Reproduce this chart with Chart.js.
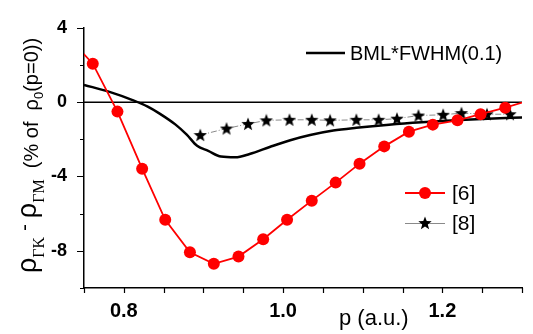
<!DOCTYPE html>
<html>
<head>
<meta charset="utf-8">
<script src="https://cdn.jsdelivr.net/npm/chart.js"></script>
<style>
    html, body { margin: 0; padding: 0; background: #fff; }
</style>
</head>
<body>
<canvas id="myChart" width="533" height="334"></canvas>
<script>
// [6] 데이터 (first/last points lie just outside the axes, the line runs off the frame)
const pRef6 = [0.730, 0.761, 0.792, 0.823, 0.852, 0.883, 0.913, 0.944, 0.975, 1.005, 1.036, 1.066, 1.096, 1.127, 1.158, 1.188, 1.219, 1.248, 1.279, 1.310];
const dRef6 = [3.50, 2.07, -0.51, -3.58, -6.33, -8.08, -8.70, -8.31, -7.38, -6.33, -5.30, -4.33, -3.31, -2.38, -1.59, -1.21, -0.98, -0.65, -0.30, 0.10];

// [8] 데이터
const pRef8 = [0.896, 0.929, 0.956, 0.979, 1.008, 1.036, 1.059, 1.092, 1.120, 1.143, 1.170, 1.201, 1.224, 1.256, 1.285];
const dRef8 = [-1.77, -1.42, -1.17, -0.98, -0.95, -0.95, -0.98, -0.95, -0.95, -0.89, -0.72, -0.68, -0.59, -0.65, -0.65];

// BML*FWHM(0.1)
const pBml = [0.750, 0.782, 0.811, 0.830, 0.844, 0.865, 0.879, 0.892, 0.906, 0.922, 0.940, 0.958, 0.984, 1.009, 1.034, 1.063, 1.092, 1.133, 1.174, 1.215, 1.257, 1.302];
const dBml = [0.93, 0.55, 0.11, -0.24, -0.59, -1.21, -1.75, -2.35, -2.62, -2.93, -2.97, -2.79, -2.40, -2.05, -1.77, -1.53, -1.38, -1.21, -1.08, -0.98, -0.89, -0.82];

const xMin = 0.75, xMax = 1.30, yMin = -10, yMax = 4;
const xLabels = ["0.8", "1.0", "1.2"];
const yLabels = [4, 0, -4, -8];

const FONT = "'Liberation Sans', Arial, sans-serif";
const SERIF = "'Liberation Serif', 'Times New Roman', serif";

const toXY = (xs, ys) => xs.map((x, i) => ({ x: x, y: ys[i] }));

// 별 모양 마커
const makeStar = (size) => {
    const c = document.createElement("canvas");
    c.width = size; c.height = size;
    const g = c.getContext("2d");
    g.beginPath();
    for (let i = 0; i < 10; i++) {
        const r = i % 2 ? size * 0.21 : size * 0.5;
        const a = -Math.PI / 2 + i * Math.PI / 5;
        const px = size / 2 + r * Math.cos(a);
        const py = size / 2 + 0.5 + r * Math.sin(a);
        if (i === 0) g.moveTo(px, py); else g.lineTo(px, py);
    }
    g.closePath();
    g.fillStyle = "#000";
    g.fill();
    return c;
};
const star = makeStar(14);

const inRange = (ctx) => {
    const v = ctx.raw;
    return v && v.x >= xMin && v.x <= xMax ? 6 : 0;
};

// 축 눈금 (major / minor 길이 다름)
const tickMarks = {
    id: "tickMarks",
    afterDatasetsDraw(chart) {
        const { ctx, scales: { x, y } } = chart;
        ctx.save();
        ctx.strokeStyle = "#000";
        ctx.lineWidth = 1.2;
        ctx.beginPath();
        x.ticks.forEach((t) => {
            const px = Math.round(x.getPixelForValue(t.value)) + 0.5;
            ctx.moveTo(px, x.top);
            ctx.lineTo(px, x.top + 5);
        });
        y.ticks.forEach((t) => {
            const py = Math.round(y.getPixelForValue(t.value)) + 0.5;
            const len = yLabels.includes(Math.round(t.value)) ? 7 : 4;
            ctx.moveTo(y.right - len, py);
            ctx.lineTo(y.right, py);
        });
        ctx.stroke();
        ctx.restore();
    }
};

// 축 제목 + 범례
const annotations = {
    id: "annotations",
    afterDraw(chart) {
        const { ctx } = chart;
        const ds = chart.data.datasets;
        ctx.save();
        ctx.fillStyle = "#000";
        ctx.textBaseline = "middle";
        ctx.textAlign = "left";

        // x축 제목
        ctx.font = "22px " + FONT;
        ctx.fillText("p (a.u.)", 339, 319);

        // 범례: BML
        ctx.strokeStyle = ds[0].borderColor;
        ctx.lineWidth = ds[0].borderWidth;
        ctx.beginPath(); ctx.moveTo(306, 53); ctx.lineTo(345, 53); ctx.stroke();
        ctx.font = "20px " + FONT;
        ctx.fillText(ds[0].label, 350, 54);

        // 범례: [6]
        ctx.strokeStyle = ds[1].borderColor;
        ctx.lineWidth = ds[1].borderWidth;
        ctx.beginPath(); ctx.moveTo(405, 193); ctx.lineTo(445, 193); ctx.stroke();
        ctx.fillStyle = ds[1].backgroundColor;
        ctx.beginPath(); ctx.arc(425, 193, 6, 0, Math.PI * 2); ctx.fill();
        ctx.fillStyle = "#000";
        ctx.font = "21px " + FONT;
        ctx.fillText(ds[1].label, 452, 194);

        // 범례: [8]
        ctx.strokeStyle = ds[2].borderColor;
        ctx.lineWidth = 1;
        ctx.beginPath(); ctx.moveTo(405, 223.5); ctx.lineTo(445, 223.5); ctx.stroke();
        ctx.drawImage(star, 425 - star.width / 2, 223 - star.height / 2);
        ctx.fillText(ds[2].label, 452, 224);

        // y축 제목 (회전, 아래첨자 포함)
        ctx.translate(36, 273);
        ctx.rotate(-Math.PI / 2);
        ctx.textBaseline = "alphabetic";
        const parts = [
            { t: "ρ", f: "27px " + FONT, dy: 0 },
            { t: "ΓΚ", f: "16px " + SERIF, dy: 8 },
            { t: " - ", f: "21px " + FONT, dy: -5 },
            { t: "ρ", f: "27px " + FONT, dy: 0 },
            { t: "ΓΜ", f: "16px " + SERIF, dy: 8 },
            { t: "  (% of  ", f: "20px " + FONT, dy: 2 },
            { t: "ρ", f: "20px " + FONT, dy: 2 },
            { t: "0", f: "13px " + FONT, dy: 7 },
            { t: "(p=0))", f: "20px " + FONT, dy: 2 }
        ];
        let pos = 0;
        parts.forEach((p) => {
            ctx.font = p.f;
            ctx.fillText(p.t, pos, p.dy);
            pos += ctx.measureText(p.t).width;
        });
        ctx.restore();
    }
};

const config = {
    type: "line",
    data: {
        datasets: [
            {
                label: "BML*FWHM(0.1)",
                data: toXY(pBml, dBml),
                borderColor: "#000",
                borderWidth: 2.5,
                pointRadius: 0,
                cubicInterpolationMode: "monotone",
                clip: 0,
                order: 3
            },
            {
                label: "[6]",
                data: toXY(pRef6, dRef6),
                borderColor: "#ff0000",
                backgroundColor: "#ff0000",
                borderWidth: 1.8,
                pointRadius: inRange,
                pointBorderWidth: 0,
                pointBackgroundColor: "#ff0000",
                clip: 0,
                order: 1
            },
            {
                label: "[8]",
                data: toXY(pRef8, dRef8),
                borderColor: "#8a8a8a",
                borderWidth: 1,
                borderDash: [6, 2, 1, 2],
                pointStyle: star,
                pointRadius: 6,
                clip: 0,
                order: 2
            },
            {
                label: "zero",
                data: toXY([xMin, xMax], [0, 0]),
                borderColor: "#000",
                borderWidth: 1.5,
                pointRadius: 0,
                clip: 0,
                order: 4
            }
        ]
    },
    options: {
        responsive: false,
        animation: false,
        layout: { padding: { top: 22, right: 3, left: 0, bottom: 0 } },
        plugins: {
            legend: { display: false },
            tooltip: { enabled: false }
        },
        scales: {
            x: {
                type: "linear",
                min: xMin,
                max: xMax,
                afterFit: (scale) => { scale.height = 46; },
                afterBuildTicks: (scale) => {
                    scale.ticks = [];
                    for (let i = 0; i <= 11; i++) scale.ticks.push({ value: +(xMin + i * 0.05).toFixed(2) });
                },
                ticks: {
                    autoSkip: false,
                    maxRotation: 0,
                    padding: 11,
                    color: "#000",
                    font: { family: FONT, size: 20, weight: "bold" },
                    callback: (v) => xLabels.includes(v.toFixed(2).slice(0, 3)) && Math.abs(v * 10 - Math.round(v * 10)) < 1e-6 ? v.toFixed(1) : ""
                },
                grid: { display: false, drawTicks: false },
                border: { display: true, color: "#000", width: 1.5 }
            },
            y: {
                min: yMin,
                max: yMax,
                afterFit: (scale) => { scale.width = 84; },
                ticks: {
                    stepSize: 2,
                    padding: 17,
                    color: "#000",
                    font: { family: FONT, size: 18, weight: "bold" },
                    callback: (v) => yLabels.includes(v) ? String(v) : ""
                },
                grid: { display: false, drawTicks: false },
                border: { display: true, color: "#000", width: 1.5 }
            }
        }
    },
    plugins: [tickMarks, annotations]
};

const myChart = new Chart(document.getElementById("myChart"), config);
</script>
</body>
</html>
